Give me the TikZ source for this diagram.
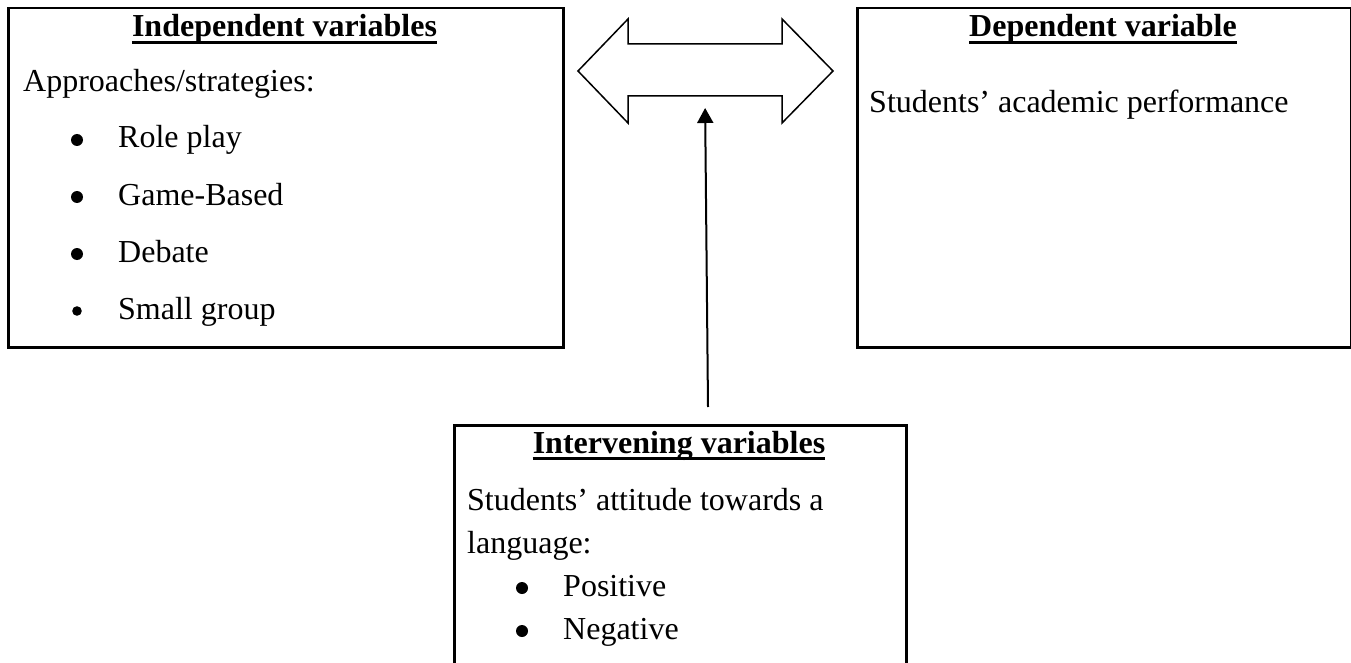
\documentclass[tikz,border=0pt]{standalone}
\usepackage{fontspec}
\setmainfont{Liberation Serif}
\usetikzlibrary{positioning,arrows.meta}

\begin{document}
\begin{tikzpicture}[x=1pt,y=-1pt,
    box/.style={draw,line width=2.5pt,anchor=north west,inner sep=0pt},
    txt/.style={anchor=base west,inner sep=0pt,font=\fontsize{32}{38}\selectfont},
    head/.style={anchor=base,inner sep=0pt,font=\fontsize{32}{38}\selectfont\bfseries}]

    \clip (0,0) rectangle (1351,663);

    % the three boxes
    \node[box,minimum width=555pt,minimum height=339pt] (iv_box) at (7,7) {};
    \node[box,minimum width=494pt,minimum height=339pt] (dv_box) at (856,7) {};
    \node[box,minimum width=452pt,minimum height=300pt] (mv_box) at (453,424) {};

    \node[head] (iv_head) at (284.5,37) {Independent variables};
    \node[head] (dv_head) at (1103,37)  {Dependent variable};
    \node[head] (mv_head) at (679,453)  {Intervening variables};
    \foreach \h in {iv_head,dv_head,mv_head}
        \draw[line width=3pt] ([yshift=-5.5pt]\h.base west) -- ([yshift=-5.5pt]\h.base east);

    % independent variables
    \node[txt] (iv_text) at (23,92) {Approaches/strategies:};
    \foreach \n/\lbl/\y/\r in {1/Role play/148/6, 2/Game-Based/205/6, 3/Debate/262/6, 4/Small group/319/4.8} {
        \fill (77,\y-8) circle (\r pt);
        \node[txt] (iv_item\n) at (118,\y) {\lbl};
    }

    % dependent variable
    \node[txt] (dv_text) at (869,113) {Students’ academic performance};

    % intervening variables
    \node[txt] (mv_text1) at (467,510) {Students’ attitude towards a};
    \node[txt] (mv_text2) at (467,553) {language:};
    \foreach \n/\lbl/\y in {1/Positive/596, 2/Negative/639} {
        \fill (522,\y-8) circle (6pt);
        \node[txt] (mv_item\n) at (563,\y) {\lbl};
    }

    % double arrow between the boxes
    \draw[line width=1.5pt,line join=miter]
        (578,71) -- (628,19) -- (628,44) -- (782,44) -- (782,19) -- (833,71)
        -- (782,123) -- (782,96) -- (628,96) -- (628,123) -- cycle;

    \coordinate (mv_foot) at (708,407);
    \coordinate (link_base) at (705,96);
    \draw[line width=2pt,-{Triangle[width=16pt,length=15pt]},shorten >=12pt] (mv_foot) -- (link_base);
\end{tikzpicture}
\end{document}
